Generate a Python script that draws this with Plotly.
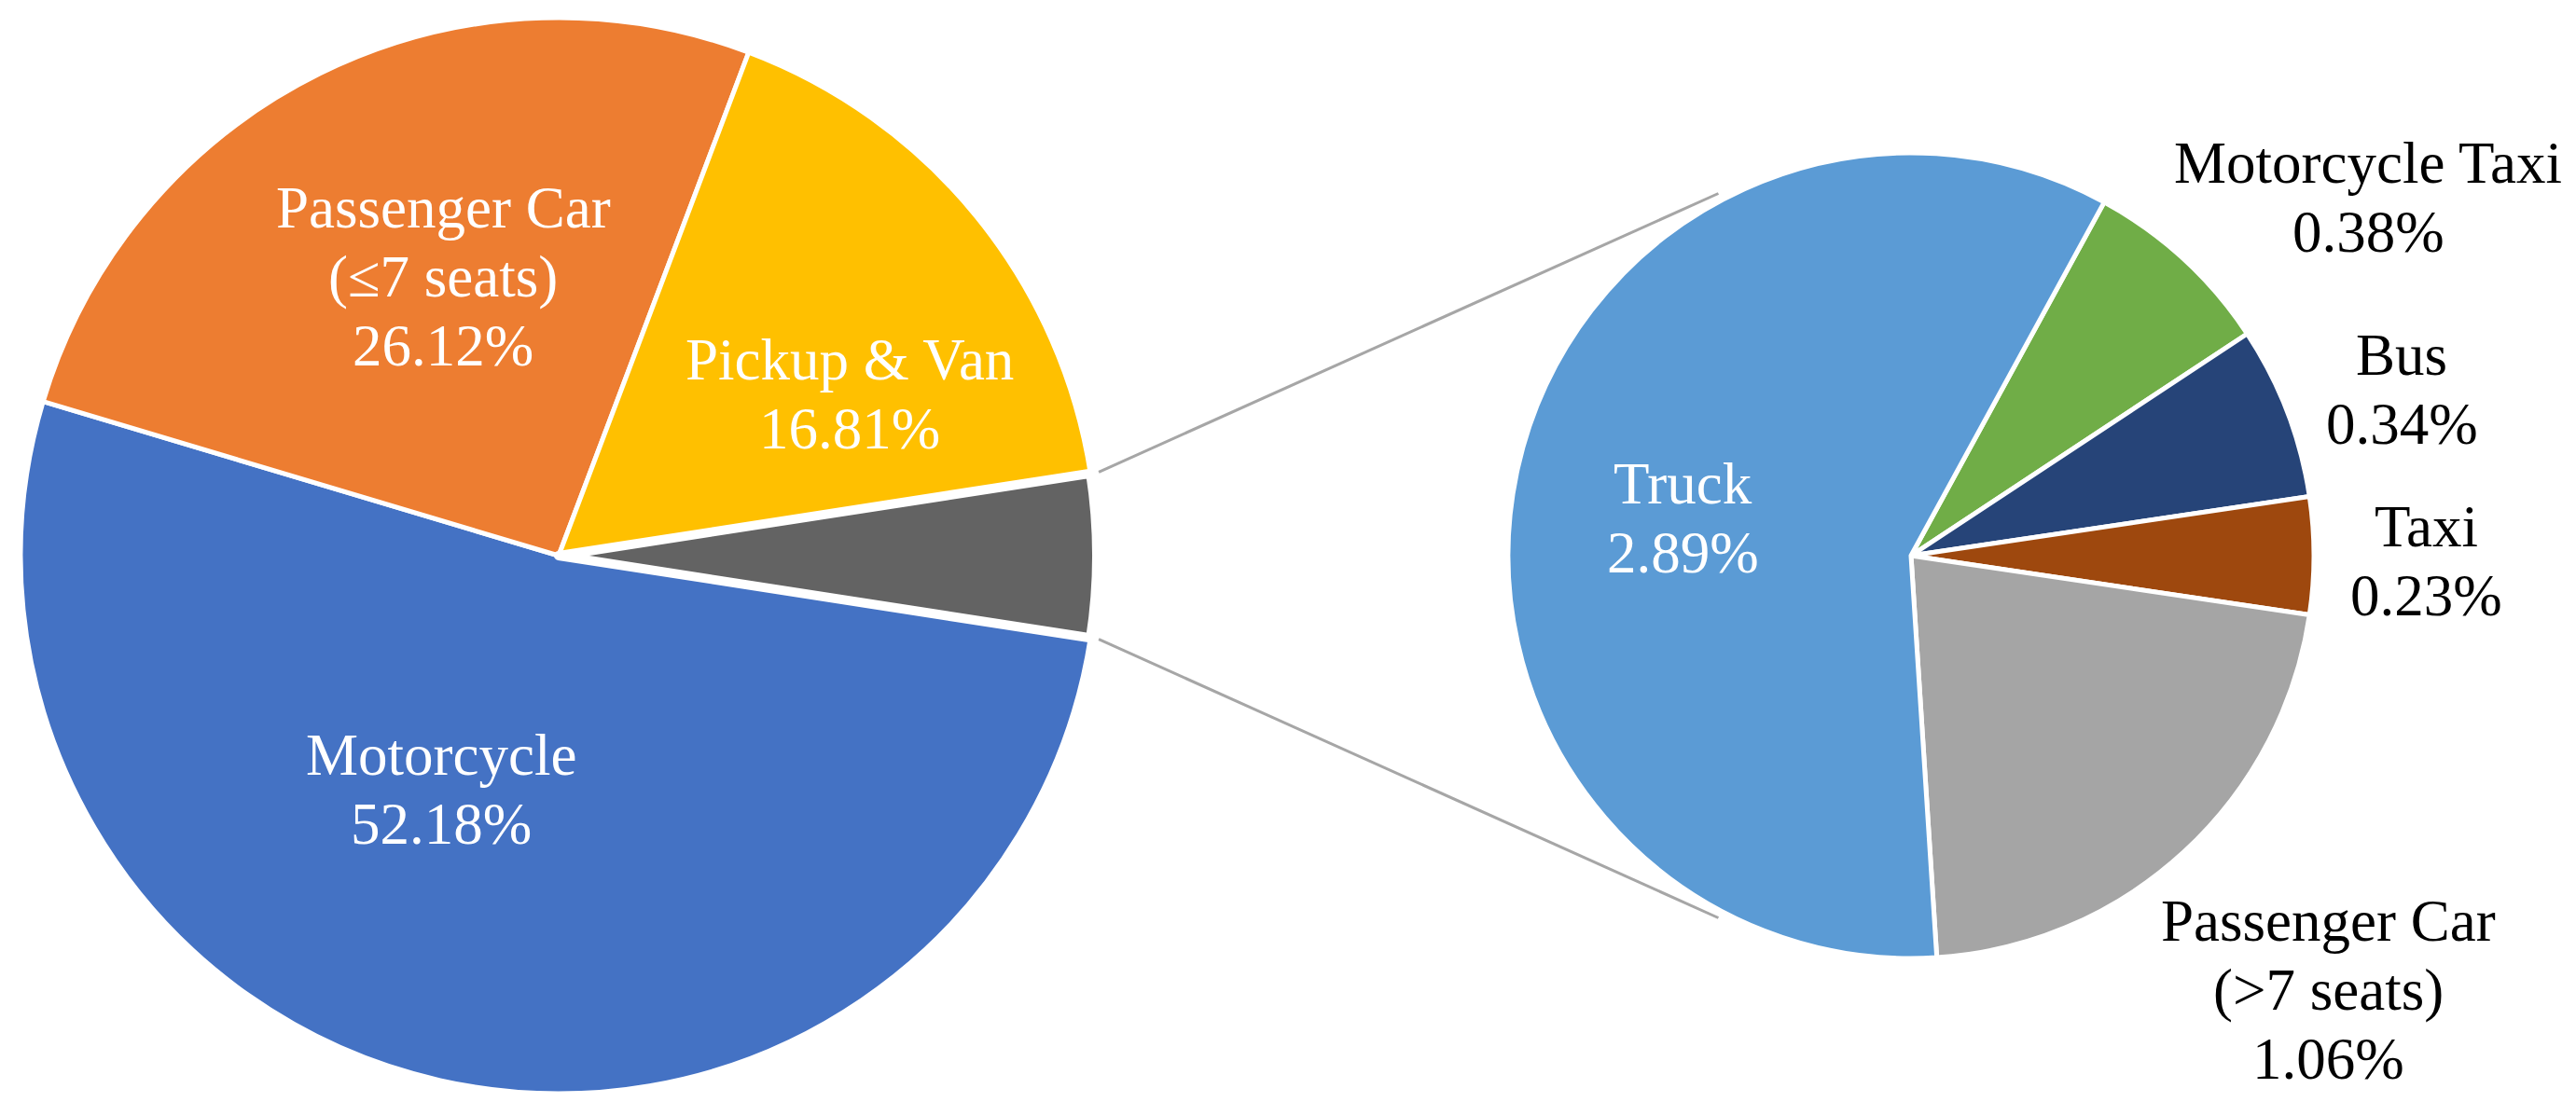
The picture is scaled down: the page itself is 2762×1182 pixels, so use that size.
import math
import plotly.graph_objects as go

# main pie
main_labels = ["Motorcycle", "Passenger Car<br>(≤7 seats)", "Pickup & Van", "Others"]
main_values = [52.18, 26.12, 16.81, 4.89]
main_colors = ["#4472C4", "#ED7D31", "#FFC000", "#636363"]

# breakdown of the "Others" slice
sub_labels = ["Motorcycle Taxi", "Bus", "Taxi", "Passenger Car<br>(>7 seats)", "Truck"]
sub_values = [0.38, 0.34, 0.23, 1.06, 2.89]
sub_colors = ["#70AD47", "#264478", "#9E480E", "#A5A5A5", "#5B9BD5"]

W, H = 2762, 1182
FONT = "Liberation Serif, Times New Roman, serif"
FS = 63
LINE_GAP = 74

# pie geometry in pixels
lc, lr = (591, 588), 574
rc, rr = (2041, 588), 430


def px2paper(x, y):
    return x / W, 1 - y / H


def dom(c, r):
    x0, y1 = px2paper(c[0] - r, c[1] - r)
    x1, y0 = px2paper(c[0] + r, c[1] + r)
    return dict(x=[x0, x1], y=[y0, y1])


other_deg = main_values[-1] / sum(main_values) * 360
rot_main = 90 + other_deg / 2
sub_total = sum(sub_values)
rot_sub = 90 - (sub_values[2] / 2 + sub_values[1] + sub_values[0]) / sub_total * 360

fig = go.Figure()
fig.add_trace(go.Pie(
    labels=main_labels, values=main_values, sort=False, direction="clockwise",
    rotation=rot_main, domain=dom(lc, lr + 3),
    marker=dict(colors=main_colors, line=dict(color="white", width=[5, 5, 5, 10])),
    textinfo="none", hoverinfo="skip", showlegend=False,
))
fig.add_trace(go.Pie(
    labels=sub_labels, values=sub_values, sort=False, direction="clockwise",
    rotation=rot_sub, domain=dom(rc, rr + 2),
    marker=dict(colors=sub_colors, line=dict(color="white", width=5)),
    textinfo="none", hoverinfo="skip", showlegend=False,
))

# label anchors: x centre and baseline of the first line, in pixels
main_pos = [(465, 823), (467, 236), (903, 399), None]
sub_pos = [(2531, 188), (2567, 394), (2593, 578), (2488, 1001), (1796, 532)]
sub_color_txt = ["black", "black", "black", "black", "white"]


def add_label(lab, val, pos, col):
    lines = lab.split("<br>") + [f"{val:.2f}%"]
    for i, t in enumerate(lines):
        base = pos[1] + i * LINE_GAP
        x, y = px2paper(pos[0], base - 0.3375 * FS)
        fig.add_annotation(x=x, y=y, xref="paper", yref="paper", showarrow=False,
                           text=t, xanchor="center", yanchor="middle",
                           font=dict(family=FONT, size=FS, color=col))


for lab, val, pos in zip(main_labels, main_values, main_pos):
    if pos is not None:
        add_label(lab, val, pos, "white")

for lab, val, pos, col in zip(sub_labels, sub_values, sub_pos, sub_color_txt):
    add_label(lab, val, pos, col)

# connector lines from the "Others" slice to the second pie
half = math.radians(other_deg / 2)
end_ang = math.radians(118)
for s in (1, -1):
    x0 = lc[0] + (lr + 12) * math.cos(half)
    y0 = lc[1] - s * (lr + 12) * math.sin(half)
    x1 = rc[0] + (rr + 10) * math.cos(end_ang)
    y1 = rc[1] - s * (rr + 10) * math.sin(end_ang)
    a, b = px2paper(x0, y0)
    c, d = px2paper(x1, y1)
    fig.add_shape(type="line", xref="paper", yref="paper", x0=a, y0=b, x1=c, y1=d,
                  line=dict(color="#A6A6A6", width=3))

fig.update_layout(
    width=W, height=H, margin=dict(l=0, r=0, t=0, b=0),
    paper_bgcolor="white", plot_bgcolor="white",
    font=dict(family=FONT),
)

fig.write_html("out.html")
